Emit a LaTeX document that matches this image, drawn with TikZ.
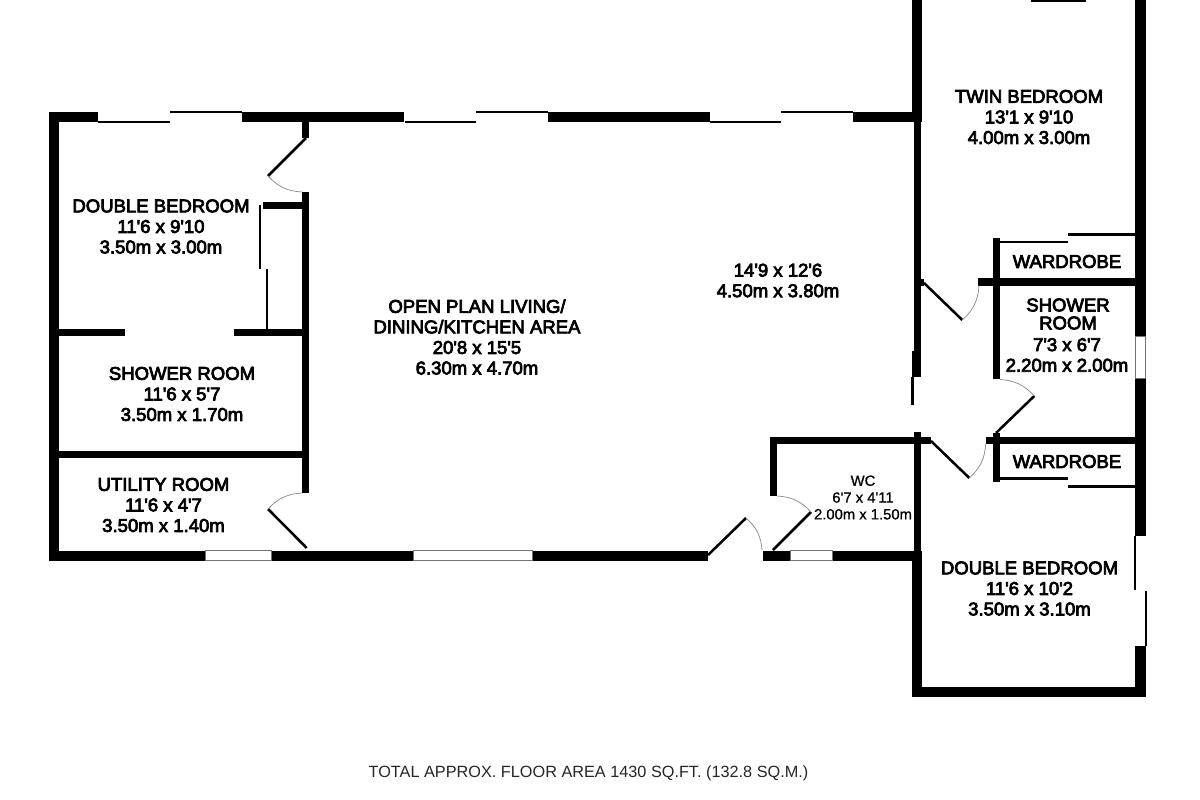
\documentclass[tikz,border=0pt]{standalone}
\usepackage{fontspec}
\setmainfont{Liberation Sans}
\newfontfamily\labfont{Liberation Sans}[FakeBold=4]
\newfontfamily\wcfont{Liberation Sans}[FakeBold=0.8]
\newfontfamily\footfont{Liberation Sans}
\tikzset{
  wall/.style={fill=black},
  slider/.style={fill=black},
  leaf/.style={draw=black,line width=1.9pt,line cap=butt},
  swing/.style={draw=black!45,line width=0.55pt},
  pane/.style={fill=white,draw=black!55,line width=0.5pt},
  roomlabel/.style={font=\labfont\fontsize{13.9}{15.4}\selectfont,align=center,inner sep=0pt,text=black},
  wclabel/.style={font=\wcfont\fontsize{11.1}{12.6}\selectfont,align=center,inner sep=0pt,text=black},
  footer/.style={font=\footfont\fontsize{12.2}{14}\selectfont,inner sep=0pt,text=black!85},
}
\begin{document}
\begin{tikzpicture}[x=0.75pt,y=-0.75pt]
\useasboundingbox[fill=white] (0,0) rectangle (1200,800);
% outer walls, main wing
\fill[wall] (48.5,112) rectangle (98,122.3);
\fill[wall] (48.5,112) rectangle (59.3,560.7);
\fill[wall] (242,112) rectangle (404,122.3);
\fill[wall] (548,112) rectangle (710,122.3);
\fill[wall] (853,112) rectangle (922.3,122);
\fill[wall] (48.5,550.5) rectangle (708,560.7);
\fill[wall] (762.5,550.5) rectangle (922,560.7);
% top sliding doors
\fill[slider] (98,121) rectangle (170,123.2);
\fill[slider] (170,110.6) rectangle (242,113);
\fill[slider] (405,121) rectangle (476,123.2);
\fill[slider] (476,110.6) rectangle (548,113);
\fill[slider] (710,121) rectangle (781,123.2);
\fill[slider] (781,110.6) rectangle (853,113);
% left partition
\fill[wall] (302.3,122) rectangle (309.3,138);
\fill[wall] (302.3,192) rectangle (309.3,493);
\fill[wall] (263,201.8) rectangle (302.3,209);
\fill[wall] (59,329.3) rectangle (125,336);
\fill[wall] (234,329.3) rectangle (302.3,336);
\fill[wall] (59,451) rectangle (302.3,458.3);
\fill[slider] (259,205) rectangle (261.4,268.5);
\fill[slider] (265.7,268.5) rectangle (268,329.5);
% WC walls
\fill[wall] (770,436.7) rectangle (777.3,496);
\fill[wall] (770,436.7) rectangle (931,444);
% right wing walls
\fill[wall] (912.3,0) rectangle (922.3,112);
\fill[wall] (914,122) rectangle (920.7,377);
\fill[wall] (911.7,351) rectangle (914,377);
\fill[slider] (911.4,377) rectangle (914,405);
\fill[wall] (914,432) rectangle (920.7,551);
\fill[wall] (912.3,551) rectangle (922.3,697.3);
\fill[wall] (912.3,686.7) rectangle (1145.7,697.3);
\fill[wall] (1135,0) rectangle (1145.7,535.7);
\fill[wall] (1135,645.7) rectangle (1145.7,697.3);
\fill[slider] (1031,0) rectangle (1085.7,1.6);
\fill[wall] (920.7,279) rectangle (924,285.5);
\fill[wall] (978.3,278.3) rectangle (1135,285.7);
\fill[wall] (992.7,238.3) rectangle (1000,379.3);
\fill[wall] (985.7,436.7) rectangle (1135,444);
\fill[wall] (992.7,433) rectangle (1000,482.3);
% wardrobe and bedroom sliders
\fill[slider] (1000,240.7) rectangle (1068,243.3);
\fill[slider] (1068,233.3) rectangle (1135,236);
\fill[slider] (1000,477.3) rectangle (1068,480);
\fill[slider] (1068,485.3) rectangle (1135,488);
\fill[slider] (1134,535.7) rectangle (1136.2,590.3);
\fill[slider] (1145,590.7) rectangle (1147.3,645.7);
% windows
\filldraw[pane] (205.8,550.8) rectangle (271.7,560.7);
\filldraw[pane] (413.5,550.8) rectangle (532,560.7);
\filldraw[pane] (790.7,550.8) rectangle (832.3,560.7);
\filldraw[pane] (1135.8,336.8) rectangle (1145.8,378.3);
% door leaves
\draw[leaf] (306,138) -- (268,176);
\draw[leaf] (306.7,548) -- (268,509);
\draw[leaf] (708,555) -- (746,518);
\draw[leaf] (773,550) -- (811,512);
\draw[leaf] (924,283) -- (962.3,320);
\draw[leaf] (996,433) -- (1034.3,396);
\draw[leaf] (931,441) -- (969.3,478);
% door swings
\draw[swing] (268,176) to[bend right=22] (302.3,192);
\draw[swing] (302.3,493) to[bend right=22] (268,509);
\draw[swing] (746,518) to[bend left=22] (762,550);
\draw[swing] (777,496) to[bend left=22] (811,512);
\draw[swing] (962.3,320) to[bend right=22] (979,285.5);
\draw[swing] (1000,379.5) to[bend left=22] (1034.3,396);
\draw[swing] (969.3,478) to[bend right=22] (985.7,444);
% labels
\node[roomlabel] (dbl1) at (161,226.5) {DOUBLE BEDROOM\\11'6 x 9'10\\3.50m x 3.00m};
\node[roomlabel] (twin) at (1029,117) {TWIN BEDROOM\\13'1 x 9'10\\4.00m x 3.00m};
\node[roomlabel] (open) at (477,337) {OPEN PLAN LIVING/\\DINING/KITCHEN AREA\\20'8 x 15'5\\6.30m x 4.70m};
\node[roomlabel] (living) at (778,280.5) {14'9 x 12'6\\4.50m x 3.80m};
\node[roomlabel] (dbl2) at (1029.5,588.5) {DOUBLE BEDROOM\\11'6 x 10'2\\3.50m x 3.10m};
\node[roomlabel] (show1) at (182,394) {SHOWER ROOM\\11'6 x 5'7\\3.50m x 1.70m};
\node[roomlabel] (util) at (163.5,505) {UTILITY ROOM\\11'6 x 4'7\\3.50m x 1.40m};
\node[wclabel] (wc) at (863,497.5) {WC\\6'7 x 4'11\\2.00m x 1.50m};
\node[roomlabel] (ward1) at (1067,261.5) {WARDROBE};
\node[roomlabel] (ward2) at (1067,461.5) {WARDROBE};
\node[roomlabel,font=\labfont\fontsize{13.9}{13.5}\selectfont] (show2) at (1068,314) {SHOWER\\ROOM};
\node[roomlabel] (show2b) at (1067,355) {7'3 x 6'7\\2.20m x 2.00m};
\node[footer] (total) at (588.5,773) {TOTAL APPROX. FLOOR AREA 1430 SQ.FT. (132.8 SQ.M.)};
\end{tikzpicture}
\end{document}
